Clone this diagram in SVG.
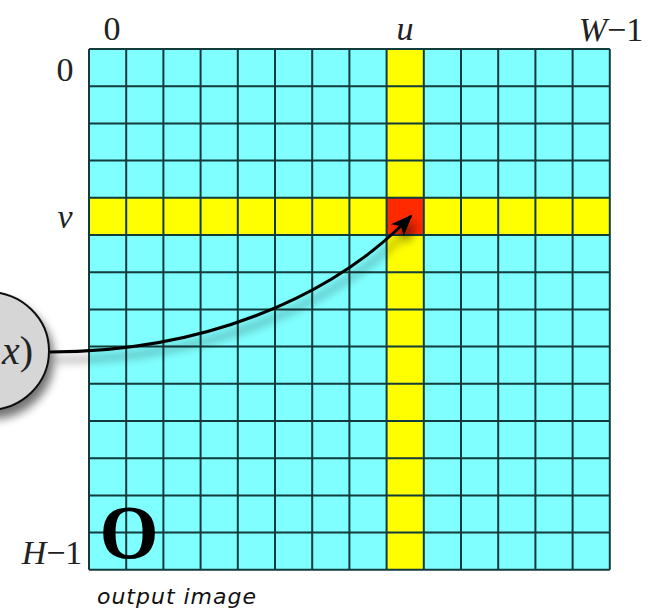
<svg xmlns="http://www.w3.org/2000/svg" width="652" height="615" viewBox="0 0 652 615">
<defs>
<style>
.m{font-family:"Liberation Serif","DejaVu Serif",serif;font-size:34px;fill:#222}
.i{font-style:italic}
.g{stroke:#123b3b;stroke-width:2;fill:none}
</style>
<filter id="sh" x="-50%" y="-50%" width="200%" height="200%">
<feGaussianBlur in="SourceAlpha" stdDeviation="5"/>
<feOffset dx="4" dy="8" result="b"/>
<feComponentTransfer><feFuncA type="linear" slope="0.55"/></feComponentTransfer>
<feMerge><feMergeNode/><feMergeNode in="SourceGraphic"/></feMerge>
</filter>
<marker id="ah2" viewBox="0 0 10 10" refX="9" refY="5" markerWidth="22" markerHeight="22" orient="auto" markerUnits="userSpaceOnUse">
<path d="M0,1 L10,5 L0,9 L2.5,5 Z" fill="#000"/>
</marker>
</defs>
<rect width="652" height="615" fill="#fff"/>
<g id="grid">
<rect x="89" y="49" width="520.8" height="520.8" fill="#7fffff"/>
<rect x="386.6" y="49" width="37.2" height="520.8" fill="#ffff00"/>
<rect x="89" y="197.8" width="520.8" height="37.2" fill="#ffff00"/>
<rect x="386.6" y="197.8" width="37.2" height="37.2" fill="#ff2a00"/>
<path class="g" d="M89,49V569.8M126.2,49V569.8M163.4,49V569.8M200.6,49V569.8M237.8,49V569.8M275,49V569.8M312.2,49V569.8M349.4,49V569.8M386.6,49V569.8M423.8,49V569.8M461,49V569.8M498.2,49V569.8M535.4,49V569.8M572.6,49V569.8M609.8,49V569.8"/>
<path class="g" d="M89,49H609.8M89,86.2H609.8M89,123.4H609.8M89,160.6H609.8M89,197.8H609.8M89,235H609.8M89,272.2H609.8M89,309.4H609.8M89,346.6H609.8M89,383.8H609.8M89,421H609.8M89,458.2H609.8M89,495.4H609.8M89,532.6H609.8M89,569.8H609.8"/>
<text x="129" y="558" style="font-family:'Liberation Serif','DejaVu Serif',serif;font-size:76px;font-weight:bold;fill:#000" text-anchor="middle">O</text>
</g>
<g id="labels">
<text class="m" x="112" y="40" text-anchor="middle">0</text>
<text class="m i" x="405" y="40" text-anchor="middle">u</text>
<text class="m" x="611" y="41" text-anchor="middle"><tspan class="i">W</tspan>−1</text>
<text class="m" x="65" y="81" text-anchor="middle">0</text>
<text class="m i" x="65" y="228" text-anchor="middle">v</text>
<text class="m" x="52" y="564" text-anchor="middle"><tspan class="i">H</tspan>−1</text>
<text x="177" y="604" text-anchor="middle" style="font-family:'Comic Sans MS',cursive,'DejaVu Sans',sans-serif;font-size:22px;font-style:italic;letter-spacing:1px;fill:#111">output image</text>
</g>
<g id="node">
<ellipse cx="-12" cy="351" rx="61" ry="59" fill="#d6d6d6" stroke="#111" stroke-width="2" filter="url(#sh)"/>
<text class="m" x="2" y="364" style="font-size:40px"><tspan class="i">x</tspan>)</text>
</g>
<g id="connectors">
<path d="M50,352 C200,352 330,300 411,216" fill="none" stroke="#000" stroke-width="3" filter="url(#sh)" marker-end="url(#ah2)"/>
</g>
</svg>
